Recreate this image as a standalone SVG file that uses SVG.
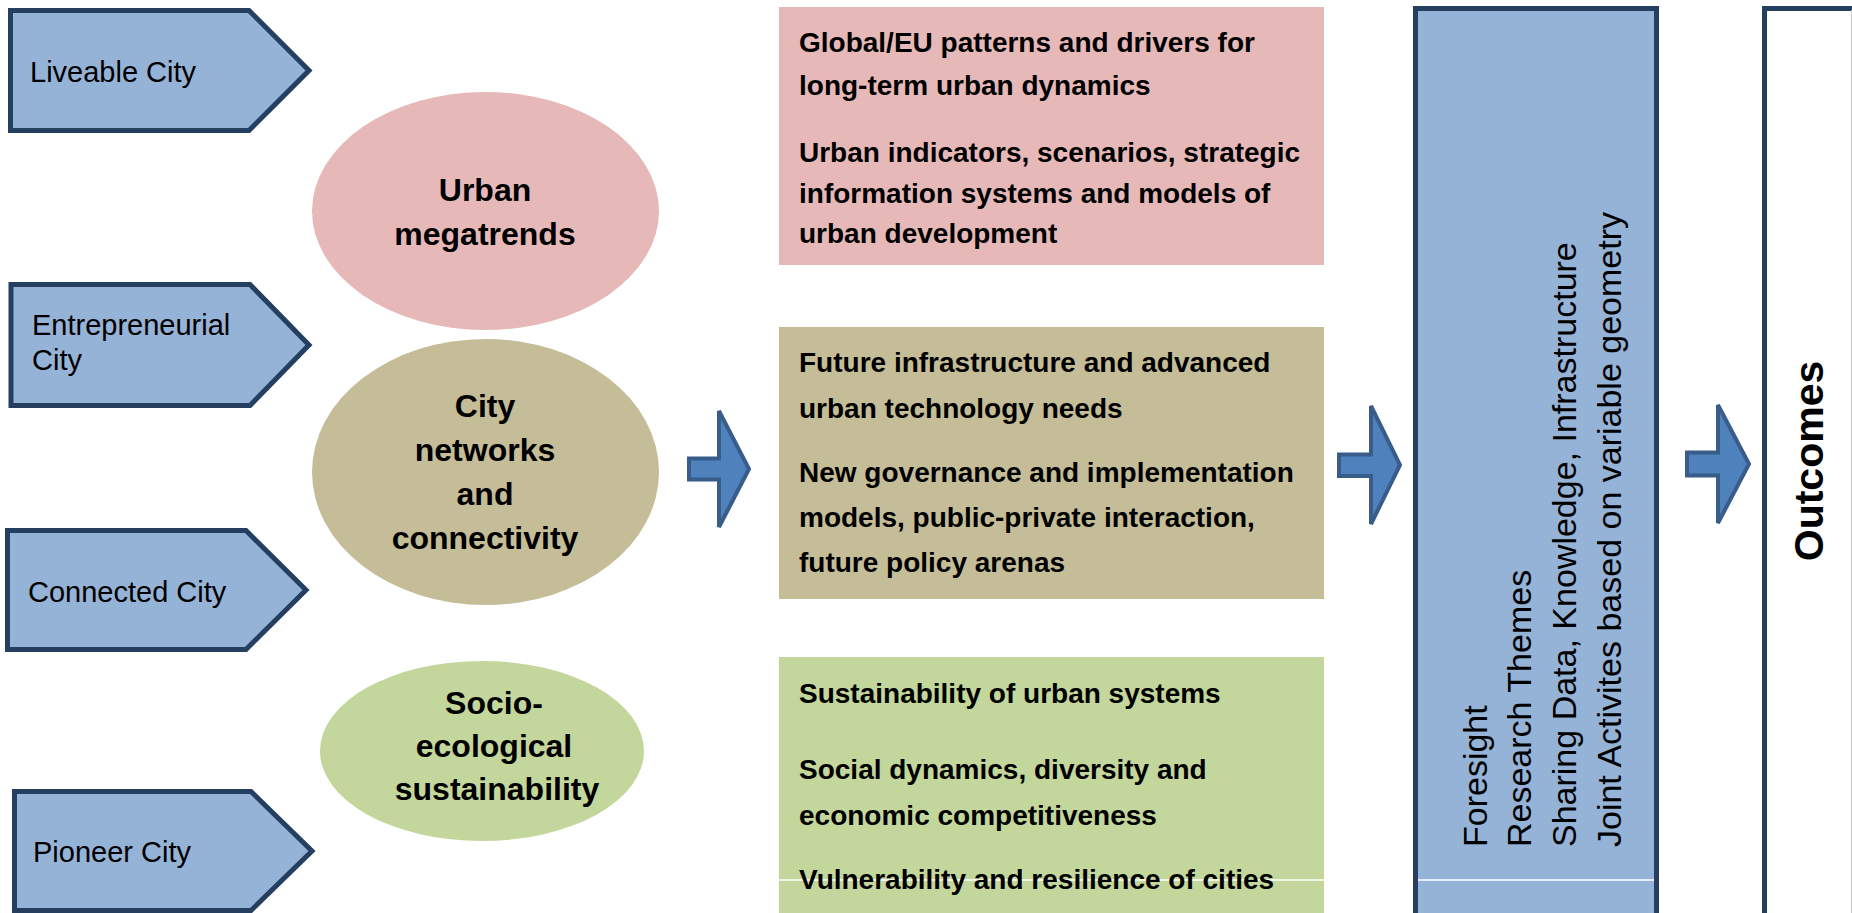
<svg xmlns="http://www.w3.org/2000/svg" width="1852" height="913" viewBox="0 0 1852 913">
<style>
.city{fill:#95B3D7;stroke:#243F60;stroke-width:5;stroke-linejoin:miter}
.lbl{font-family:"Liberation Sans",Arial,sans-serif;font-size:29px;fill:#000}
.ell{font-family:"Liberation Sans",Arial,sans-serif;font-size:32px;font-weight:bold;fill:#000;text-anchor:middle}
.box{font-family:"Liberation Sans",Arial,sans-serif;font-size:28px;font-weight:bold;fill:#000}
.rot{font-family:"Liberation Sans",Arial,sans-serif;font-size:34px;fill:#000}
.arr{fill:#4F81BD;stroke:#385D8A;stroke-width:4;stroke-linejoin:miter}
</style>
<rect width="1852" height="913" fill="#fff"/>
<g id="liveable">
<polygon class="city" points="10.5,10.5 249,10.5 309,70.5 249,130.5 10.5,130.5"/>
<text class="lbl" x="30" y="82">Liveable City</text>
</g>
<g id="entrepreneurial">
<polygon class="city" points="11,284.5 250,284.5 309,345 250,405.5 11,405.5"/>
<text class="lbl" x="32" y="335">Entrepreneurial</text>
<text class="lbl" x="32" y="370">City</text>
</g>
<g id="connected">
<polygon class="city" points="7.5,530.5 246,530.5 306,590 246,649.5 7.5,649.5"/>
<text class="lbl" x="28" y="602">Connected City</text>
</g>
<g id="pioneer">
<polygon class="city" points="14.5,791.5 251,791.5 312,851 251,910.5 14.5,910.5"/>
<text class="lbl" x="33" y="862">Pioneer City</text>
</g>
<g id="urban-megatrends">
<ellipse cx="485.5" cy="211" rx="173.5" ry="119" fill="#E6B9B8"/>
<text class="ell" x="485" y="201">Urban</text>
<text class="ell" x="485" y="245">megatrends</text>
</g>
<g id="city-networks">
<ellipse cx="485.5" cy="472" rx="173.5" ry="133" fill="#C4BD97"/>
<text class="ell" x="485" y="417">City</text>
<text class="ell" x="485" y="461">networks</text>
<text class="ell" x="485" y="505">and</text>
<text class="ell" x="485" y="549">connectivity</text>
</g>
<g id="socio-ecological">
<ellipse cx="482" cy="751" rx="162" ry="90" fill="#C3D69B"/>
<text class="ell" x="494" y="714">Socio-</text>
<text class="ell" x="494" y="757">ecological</text>
<text class="ell" x="497" y="800">sustainability</text>
</g>
<g id="box-megatrends">
<rect x="779" y="7" width="545" height="258" fill="#E6B9B8"/>
<text class="box" x="799" y="52">Global/EU patterns and drivers for</text>
<text class="box" x="799" y="95">long-term urban dynamics</text>
<text class="box" x="799" y="162">Urban indicators, scenarios, strategic</text>
<text class="box" x="799" y="203">information systems and models of</text>
<text class="box" x="799" y="243">urban development</text>
</g>
<g id="box-networks">
<rect x="779" y="327" width="545" height="272" fill="#C4BD97"/>
<text class="box" x="799" y="372">Future infrastructure and advanced</text>
<text class="box" x="799" y="418">urban technology needs</text>
<text class="box" x="799" y="482">New governance and implementation</text>
<text class="box" x="799" y="527">models, public-private interaction,</text>
<text class="box" x="799" y="572">future policy arenas</text>
</g>
<g id="box-sustainability">
<rect x="779" y="657" width="545" height="256" fill="#C3D69B"/>
<text class="box" x="799" y="703">Sustainability of urban systems</text>
<text class="box" x="799" y="779">Social dynamics, diversity and</text>
<text class="box" x="799" y="825">economic competitiveness</text>
<line x1="779" y1="880" x2="1324" y2="880" stroke="#fff" stroke-width="1.5"/>
<text class="box" x="799" y="889">Vulnerability and resilience of cities</text>
</g>
<g id="activities">
<rect x="1415.5" y="8.5" width="241" height="920" fill="#95B3D7" stroke="#243F60" stroke-width="5"/>
<line x1="1418" y1="880" x2="1654" y2="880" stroke="#fff" stroke-width="1.5"/>
<text class="rot" transform="translate(1487,847) rotate(-90)">Foresight</text>
<text class="rot" transform="translate(1531,847) rotate(-90)">Research Themes</text>
<text class="rot" transform="translate(1576,847) rotate(-90)">Sharing Data, Knowledge, Infrastructure</text>
<text class="rot" transform="translate(1621,847) rotate(-90)">Joint Activites based on variable geometry</text>
</g>
<g id="outcomes">
<rect x="1764.5" y="8.5" width="120" height="920" fill="#fff" stroke="#243F60" stroke-width="5"/>
<line x1="1851.5" y1="10" x2="1851.5" y2="913" stroke="#c8c8c8" stroke-width="1"/>
<text transform="translate(1823,461) rotate(-90)" font-family="Liberation Sans, Arial, sans-serif" font-size="41" font-weight="bold" text-anchor="middle" fill="#000">Outcomes</text>
</g>
<g id="connectors">
<path class="arr" d="M689,458.5 H719 V411 L749,469 L719,527 V479.5 H689 Z"/>
<path class="arr" d="M1339,454.5 H1371 V406 L1400,465 L1371,524 V476 H1339 Z"/>
<path class="arr" d="M1687,452.5 H1718 V405 L1749,464 L1718,523 V475.5 H1687 Z"/>
</g>
</svg>
